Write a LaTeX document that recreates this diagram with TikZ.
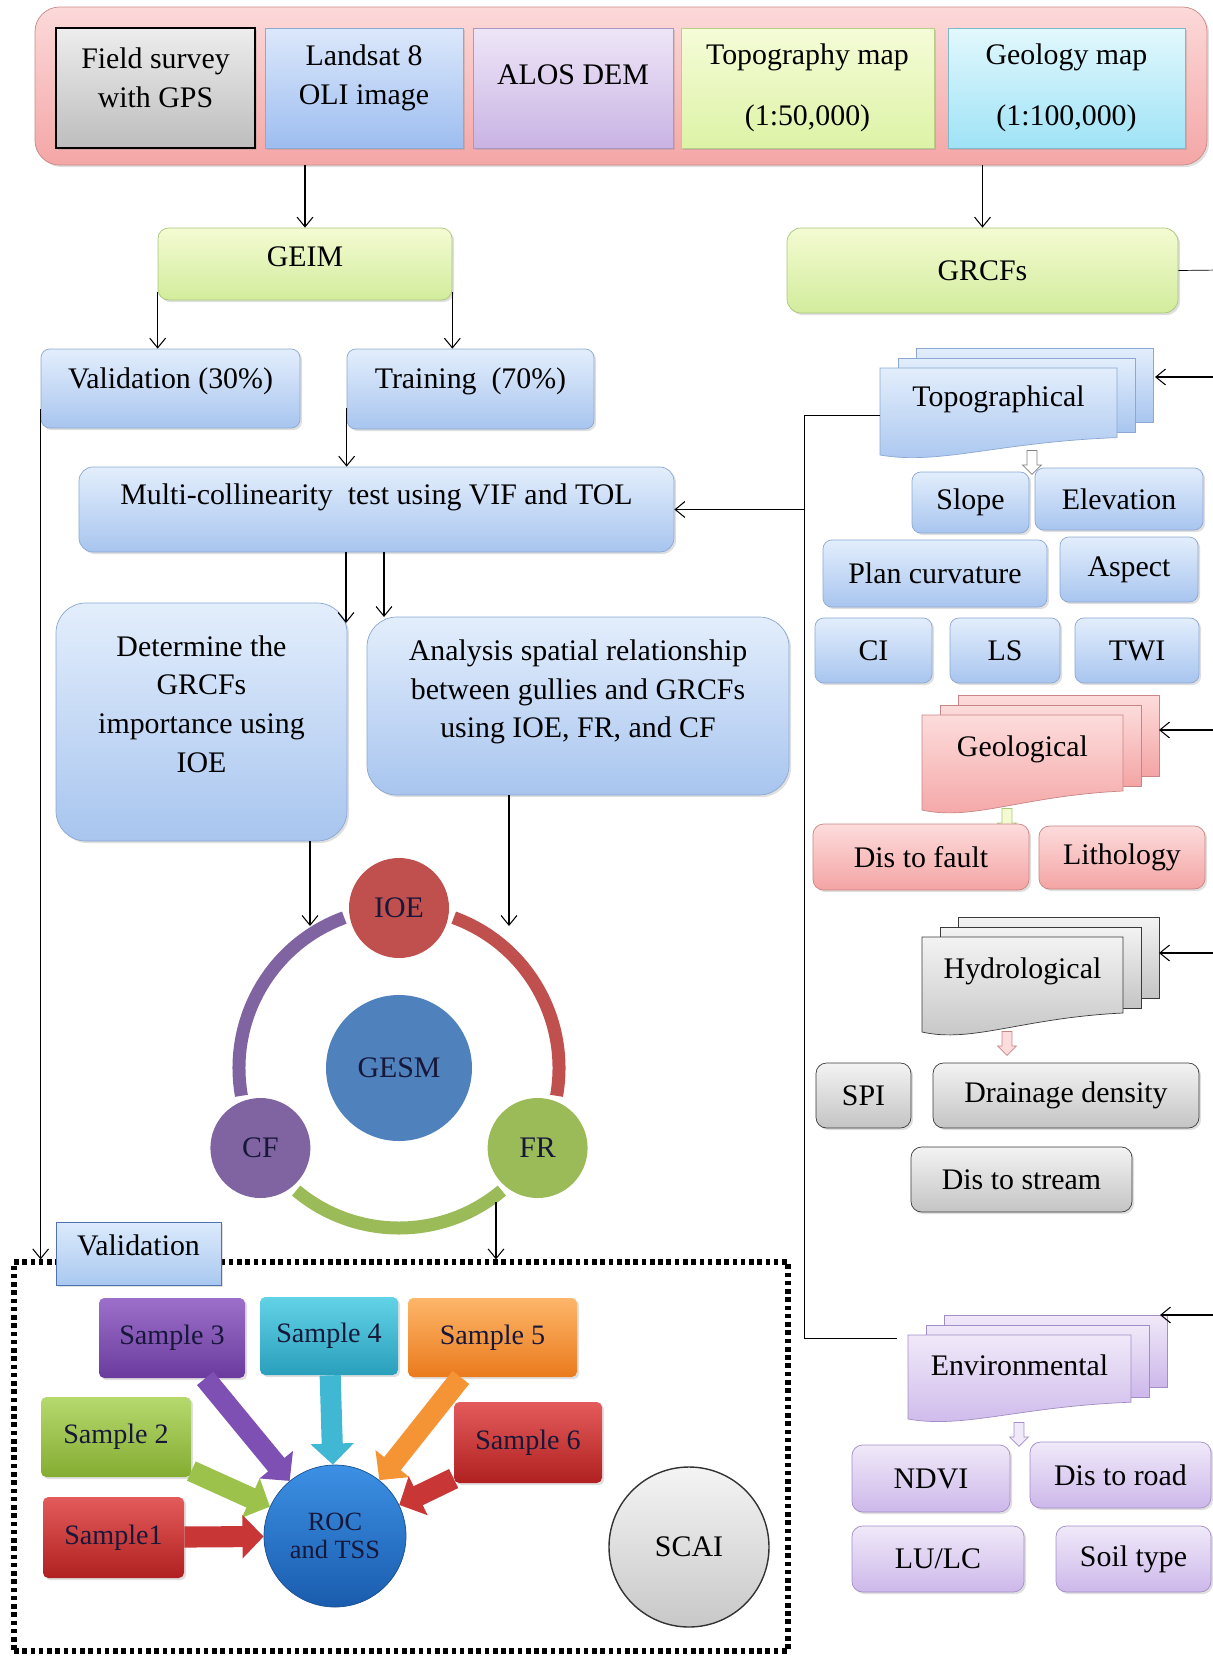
\documentclass[tikz,border=0pt]{standalone}
\usepackage{fontspec}
\setmainfont{Liberation Serif}
\usetikzlibrary{arrows.meta,shapes.arrows,shadows}

\newlength{\pxu}
\setlength{\pxu}{0.02cm}

\definecolor{srcline}{HTML}{C98A8A}\definecolor{srctop}{HTML}{FCD9D9}\definecolor{srcbot}{HTML}{F4A6A6}
\definecolor{fieldtop}{HTML}{EDEDED}\definecolor{fieldbot}{HTML}{BDBDBD}
\definecolor{landline}{HTML}{8EA9D1}\definecolor{landtop}{HTML}{DCE8FB}\definecolor{landbot}{HTML}{9DBDF0}
\definecolor{alosline}{HTML}{A999C2}\definecolor{alostop}{HTML}{EEE6F7}\definecolor{alosbot}{HTML}{C9B3E4}
\definecolor{mapgline}{HTML}{B8CF8A}\definecolor{mapgtop}{HTML}{F5FCD8}\definecolor{mapgbot}{HTML}{DDF3A6}
\definecolor{geomline}{HTML}{7FB9CC}\definecolor{geomtop}{HTML}{E2F8FD}\definecolor{geombot}{HTML}{9FE3F6}
\definecolor{greenline}{HTML}{A9C57A}\definecolor{greentop}{HTML}{F4FBD2}\definecolor{greenbot}{HTML}{D2EC9C}
\definecolor{blueline}{HTML}{8BA7D2}\definecolor{bluetop}{HTML}{E3EEFC}\definecolor{bluebot}{HTML}{A8C5EF}
\definecolor{pinkline}{HTML}{C98585}\definecolor{pinktop}{HTML}{FDDCDC}\definecolor{pinkbot}{HTML}{F4A4A4}
\definecolor{grayline}{HTML}{3A3A3A}\definecolor{graytop}{HTML}{F3F3F3}\definecolor{graybot}{HTML}{C4C4C4}
\definecolor{lavline}{HTML}{A38DC6}\definecolor{lavtop}{HTML}{F0E9F9}\definecolor{lavbot}{HTML}{CDB8EA}
\definecolor{valline}{HTML}{4E73B0}\definecolor{valtop}{HTML}{DCEBFC}\definecolor{valbot}{HTML}{A9C8F0}
\definecolor{ioered}{HTML}{C0504D}\definecolor{cfpurple}{HTML}{8064A2}
\definecolor{frgreen}{HTML}{9BBB59}\definecolor{gesmblue}{HTML}{4F81BD}
\definecolor{smptext}{HTML}{17173A}
\definecolor{purptop}{HTML}{9C70CA}\definecolor{purpbot}{HTML}{6A3B9D}\definecolor{purpmid}{HTML}{7E50B4}
\definecolor{tealtop}{HTML}{62D2E6}\definecolor{tealbot}{HTML}{2A9FBC}\definecolor{tealmid}{HTML}{40B8D4}
\definecolor{orngtop}{HTML}{FDB66A}\definecolor{orngbot}{HTML}{EA7A1C}\definecolor{orngmid}{HTML}{F49434}
\definecolor{grntop}{HTML}{B6D96E}\definecolor{grnbot}{HTML}{84AC31}\definecolor{grnmid}{HTML}{9CC24B}
\definecolor{redtop}{HTML}{E45B5B}\definecolor{redbot}{HTML}{B02020}\definecolor{redmid}{HTML}{C93636}
\definecolor{rocline}{HTML}{1A4F8F}\definecolor{roctop}{HTML}{3C90E4}\definecolor{rocbot}{HTML}{1A5CAE}
\definecolor{scailine}{HTML}{333333}\definecolor{scaitop}{HTML}{F4F4F4}\definecolor{scaibot}{HTML}{C8C8C8}

\tikzset{
  arr/.style={-{Straight Barb[length=5.5pt,width=9pt]}, line width=0.6pt},
  wh/.style 2 args={minimum width=#1*\pxu, minimum height=#2*\pxu},
  lift/.style={text depth=#1},
  grad/.style n args={3}{draw=#1, top color=#2, bottom color=#3},
  soft/.style={drop shadow={shadow xshift=1.2pt, shadow yshift=-1.2pt, opacity=0.25}},
  bluebox/.style={rounded corners=5pt, grad={blueline}{bluetop}{bluebot}, soft},
  greenbox/.style={rounded corners=6pt, grad={greenline}{greentop}{greenbot}, soft},
  pinkbox/.style={rounded corners=6pt, grad={pinkline}{pinktop}{pinkbot}, soft},
  graybox/.style={rounded corners=6pt, grad={grayline}{graytop}{graybot}, soft},
  lavbox/.style={rounded corners=6pt, grad={lavline}{lavtop}{lavbot}, soft},
  topostk/.style={grad={blueline}{bluetop}{bluebot}},
  geostk/.style={grad={pinkline}{pinktop}{pinkbot}},
  hydrostk/.style={grad={grayline}{graytop}{graybot}},
  envstk/.style={grad={lavline}{lavtop}{lavbot}},
  ball/.style={circle, wh={100}{100}, fill=#1, text=smptext},
  smp/.style 2 args={rounded corners=3pt, top color=#1, bottom color=#2, text=smptext,
    font=\fontsize{16}{18}\selectfont, soft},
  blk/.style={line width=12pt, -{Triangle[length=12pt,width=24pt]}, draw=#1},
  hol/.style={single arrow, shape border rotate=270, minimum height=24*\pxu, inner sep=2.6pt,
    single arrow head extend=2.6pt, fill=white, draw=#1},
}

% front page at (#2,#3), size #4 x #5
\newcommand{\docstack}[7]{%
  \foreach \sk in {2,1}
    \draw[#6] ({#2+\sk*18},{#3-\sk*10}) rectangle ++(#4,{0.86*#5});
  \draw[#6] (#2,#3) -- ++(#4,0) -- ++(0,{0.8*#5})
    .. controls ({#2+0.5*#4},{#3+0.85*#5}) and ({#2+0.25*#4},{#3+1.12*#5}) .. (#2,{#3+#5}) -- cycle;
  \node (#1) at ({#2+0.5*#4},{#3+0.36*#5}) {#7};
}

\begin{document}
\begin{tikzpicture}[x=0.02cm, y=-0.02cm, font=\fontsize{17}{22}\selectfont]
\useasboundingbox (0,0) rectangle (1213,1658);

% data sources
\node[wh={1172}{158}, rounded corners=14pt, grad={srcline}{srctop}{srcbot}, soft] (src) at (621,86) {};
\node[wh={199}{120}, grad={black}{fieldtop}{fieldbot}, line width=0.9pt, soft] (field) at (155.5,88) {};
\node[align=center] (field-t) at (155.5,78) {Field survey\\with GPS};
\node[wh={198}{120}, grad={landline}{landtop}{landbot}, soft] (landsat) at (364,88) {};
\node[align=center] (landsat-t) at (364,78) {Landsat 8\\OLI image};
\node[wh={200}{120}, grad={alosline}{alostop}{alosbot}, soft, lift=14.8pt] (alos) at (573,88) {ALOS DEM};
\node[wh={253}{120}, grad={mapgline}{mapgtop}{mapgbot}, soft, align=center] (topomap) at (807.5,88) {Topography map\\[13pt](1:50,000)};
\node[wh={237}{120}, grad={geomline}{geomtop}{geombot}, soft, align=center] (geomap) at (1066.5,88) {Geology map\\[13pt](1:100,000)};

% left branch
\node[greenbox, wh={294}{72}, lift=8pt] (geim) at (305,264) {GEIM};
\node[greenbox, wh={391}{85}, rounded corners=8pt] (grcfs) at (982.5,270.5) {GRCFs};
\node[bluebox, wh={259}{79}, lift=12pt] (val30) at (170.5,388.5) {Validation (30\%)};
\node[bluebox, wh={247}{80}, lift=12.7pt] (train) at (470.5,389) {Training~ (70\%)};
\node[bluebox, wh={595}{85}, rounded corners=8pt, lift=17.4pt] (multi) at (376.5,509.5) {Multi-collinearity~ test using VIF and TOL};
\node[bluebox, wh={291}{238}, rounded corners=17pt] (determine) at (201.5,722) {};
\node[align=center] (determine-t) at (201.5,704) {Determine the\\GRCFs\\importance using\\IOE};
\node[bluebox, wh={422}{178}, rounded corners=17pt] (analysis) at (578,706) {};
\node[align=center] (analysis-t) at (578,692) {Analysis spatial relationship\\between gullies and GRCFs\\using IOE, FR, and CF};

% model cycle
\node[ball=gesmblue, wh={146}{146}] (gesm) at (399,1068) {GESM};
\draw[line width=7.4pt, ioered] (gesm.center) ++(-70:160) arc[start angle=-70, end angle=10, radius=160];
\draw[line width=7.4pt, cfpurple] (gesm.center) ++(-110:160) arc[start angle=-110, end angle=-190, radius=160];
\draw[line width=7.4pt, frgreen] (gesm.center) ++(-230:160) arc[start angle=-230, end angle=-310, radius=160];
\node[ball=ioered] (ioe) at (399,908) {IOE};
\node[ball=cfpurple] (cf) at (260.4,1148) {CF};
\node[ball=frgreen] (fr) at (537.6,1148) {FR};

% validation
\node[draw, line width=3pt, dash pattern=on 2.6pt off 2.1pt, wh={774}{389}, inner sep=0] (frame) at (401,1456.5) {};
\node[grad={valline}{valtop}{valbot}, wh={165}{63}, lift=9pt, soft] (vallabel) at (138.5,1253.5) {Validation};
\node[smp={purptop}{purpbot}, wh={146}{80}] (s3) at (172,1338) {Sample 3};
\node[smp={tealtop}{tealbot}, wh={138}{78}] (s4) at (329,1336) {Sample 4};
\node[smp={orngtop}{orngbot}, wh={169}{79}] (s5) at (492.5,1337.5) {Sample 5};
\node[smp={grntop}{grnbot}, wh={150}{80}] (s2) at (116,1437) {Sample 2};
\node[smp={redtop}{redbot}, wh={148}{81}] (s6) at (528,1442.5) {Sample 6};
\node[smp={redtop}{redbot}, wh={141}{81}] (s1) at (113.5,1537.5) {Sample1};
\node[circle, wh={142}{142}, grad={rocline}{roctop}{rocbot}, align=center, text=smptext,
  font=\fontsize{15}{16}\selectfont] (roc) at (335,1536) {ROC\\and TSS};
\node[circle, wh={160}{160}, grad={scailine}{scaitop}{scaibot}, line width=0.8pt] (scai) at (689,1547) {SCAI};
\draw[blk=purpmid] (s3) -- (roc);
\draw[blk=tealmid] (s4) -- (roc);
\draw[blk=orngmid] (s5) -- (roc);
\draw[blk=grnmid] (s2) -- (roc);
\draw[blk=redmid] (s6) -- (roc);
\draw[blk=redmid] (s1) -- (roc);

% factor groups
\docstack{topo}{880}{368}{237}{87}{topostk}{Topographical}
\docstack{geo}{922}{715}{201}{95}{geostk}{Geological}
\docstack{hydro}{922}{937}{201}{95}{hydrostk}{Hydrological}
\docstack{env}{908}{1335}{223}{84}{envstk}{Environmental}
\node[hol=gray] (topo-a) at (1032,460) {};
\node[hol=greenline, fill=greentop] (geo-a) at (1007,818) {};
\node[hol=pinkline, fill=pinktop] (hydro-a) at (1007,1041) {};
\node[hol=lavline, fill=lavtop] (env-a) at (1019,1432) {};

\node[bluebox, wh={117}{61}] (slope) at (970.5,502.5) {Slope};
\node[bluebox, wh={168}{62}] (elev) at (1119,499) {Elevation};
\node[bluebox, wh={224}{67}] (plancurv) at (935,573.5) {Plan curvature};
\node[bluebox, wh={138}{65}] (aspect) at (1129,569.5) {Aspect};
\node[bluebox, wh={117}{65}] (ci) at (873.5,650.5) {CI};
\node[bluebox, wh={110}{65}] (ls) at (1005,650.5) {LS};
\node[bluebox, wh={124}{65}] (twi) at (1137,650.5) {TWI};
\node[pinkbox, wh={216}{66}] (fault) at (921,857) {Dis to fault};
\node[pinkbox, wh={166}{63}] (litho) at (1122,857.5) {Lithology};
\node[graybox, wh={95}{65}] (spi) at (863.5,1095.5) {SPI};
\node[graybox, wh={266}{65}] (drain) at (1066,1095.5) {Drainage density};
\node[graybox, wh={221}{65}] (stream) at (1021.5,1179.5) {Dis to stream};
\node[lavbox, wh={158}{67}] (ndvi) at (931,1478.5) {NDVI};
\node[lavbox, wh={181}{66}] (road) at (1120.5,1475) {Dis to road};
\node[lavbox, wh={172}{66}] (lulc) at (938,1559) {LU/LC};
\node[lavbox, wh={155}{66}] (soil) at (1133.5,1559) {Soil type};

% connectors
\coordinate (detin) at (346,623);
\coordinate (anin) at (384,617);
\coordinate (ringin1) at (310,926);
\coordinate (ringin2) at (509,926);
\coordinate (ringout) at (496,1202);
\coordinate (topo-l) at (880,415);
\coordinate (env-l) at (897,1338);
\coordinate (lbus) at (804,415);
\coordinate (rbus) at (1220,270);
\coordinate (topo-in) at (1155,377);
\coordinate (geo-in) at (1159,730);
\coordinate (hydro-in) at (1159,953);
\coordinate (env-in) at (1160,1315);

\draw[arr] (src.south -| geim) -- (geim.north);
\draw[arr] (src.south -| grcfs) -- (grcfs.north);
\draw[arr] ([yshift=5pt]geim.south west) -- (geim.south west |- val30.north);
\draw[arr] ([yshift=5pt]geim.south east) -- (geim.south east |- train.north);
\draw[arr] ([yshift=11pt]val30.south west) -- (val30.west |- frame.north);
\draw[arr] ([yshift=12pt]train.south west) -- (train.west |- multi.north);
\draw[arr] (multi.south -| detin) -- (detin);
\draw[arr] (multi.south -| anin) -- (anin);
\draw[arr] (determine.south -| ringin1) -- (ringin1);
\draw[arr] (analysis.south -| ringin2) -- (ringin2);
\draw[arr] (ringout) -- (frame.north -| ringout);
\draw (topo-l) -- (lbus) -- (lbus |- env-l) -- (env-l);
\draw[arr] (lbus |- multi.east) -- (multi.east);
\draw (grcfs.east) -- (rbus) -- (rbus |- env-in);
\foreach \s in {topo,geo,hydro,env}
  \draw[arr] (rbus |- \s-in) -- (\s-in);
\end{tikzpicture}
\end{document}
